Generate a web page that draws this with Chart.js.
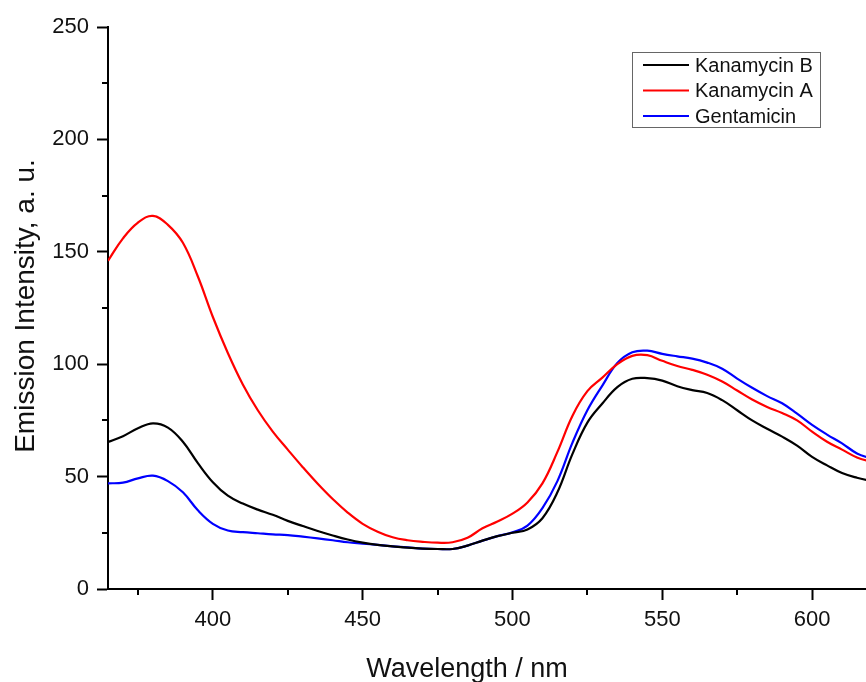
<!DOCTYPE html>
<html>
<head>
<meta charset="utf-8">
<script src="https://cdn.jsdelivr.net/npm/chart.js@4/dist/chart.umd.min.js"></script>
<style>
  html, body { margin: 0; padding: 0; background: #fff; }
  #wrap { width: 866px; height: 682px; }
</style>
</head>
<body>
<div id="wrap"><canvas id="chtEmission" width="866" height="682"></canvas></div>
<script>
'use strict';
// wavelength (nm), every 5 nm
const wavelengths = [365, 370, 375, 380, 385, 390, 395, 400, 405, 410, 415, 420, 425, 430, 435, 440, 445, 450, 455, 460,
    465, 470, 475, 480, 485, 490, 495, 500, 505, 510, 515, 520, 525, 530, 535, 540, 545, 550, 555, 560,
    565, 570, 575, 580, 585, 590, 595, 600, 605, 610, 615, 620];

const kanamycinB = [65.4, 68, 71.5, 73.7, 71.8, 65.5, 56, 47.5, 41.5, 38, 35.3, 33, 30.3, 28, 25.8, 23.8, 22, 20.6, 19.6, 19,
    18.4, 18, 17.8, 17.8, 19.3, 21.5, 23.5, 25, 26.5, 31.5, 43, 60, 74, 82.5, 89.8, 93.5, 93.8, 92.7, 90.2, 88.5,
    87.2, 84, 79.5, 75, 71.3, 67.8, 63.8, 58.8, 55, 51.6, 49.5, 48];

const kanamycinA = [146, 156, 163, 166, 162, 154, 139, 121, 105, 91, 79.5, 70, 62, 54.2, 46.8, 40, 34, 29, 25.5, 23,
    21.7, 21, 20.6, 20.8, 22.8, 27, 30, 33.5, 38.5, 47, 61, 77, 88, 94, 100, 103.7, 104, 101.5, 99.2, 97.5,
    95.3, 92.3, 88.3, 84.3, 81, 78.3, 75, 70, 65.5, 62, 58.5, 56.5];

const gentamicin = [47, 47.3, 49.2, 50.4, 48, 43, 35, 29, 26, 25.3, 24.8, 24.3, 24, 23.3, 22.5, 21.7, 20.8, 20.2, 19.6, 19,
    18.5, 18, 17.8, 17.8, 19.3, 21.5, 23.5, 25.2, 28.2, 36, 48, 65, 79.5, 90.5, 100.5, 105.3, 106, 104.6, 103.5, 102.5,
    100.7, 98, 93.6, 89.5, 85.8, 82.6, 78, 73, 68.7, 64.8, 60.3, 58];

const seriesNames = ['Kanamycin B', 'Kanamycin A', 'Gentamicin'];
const seriesColors = ['#000000', '#ff0000', '#0000ff'];

const xMajorTicks = [400, 450, 500, 550, 600];
const xMinorTicks = [375, 425, 475, 525, 575];
const yMajorTicks = [0, 50, 100, 150, 200, 250];
const yMinorTicks = [25, 75, 125, 175, 225];

const xTitle = 'Wavelength / nm';
const yTitle = 'Emission Intensity, a. u.';

const FONT = '"Liberation Sans", Arial, sans-serif';

var toPoints = (values) => values.map((v, i) => ({ x: wavelengths[i], y: v }));

// minor ticks, axis titles and the boxed legend
const decorPlugin = {
    id: 'decor',
    afterDraw(chart) {
        var ctx = chart.ctx;
        var area = chart.chartArea;
        var xs = chart.scales.x;
        var ys = chart.scales.y;

        ctx.save();
        ctx.strokeStyle = '#000';
        ctx.lineWidth = 2;
        ctx.beginPath();
        xMinorTicks.forEach((v) => {
            var px = Math.round(xs.getPixelForValue(v));
            ctx.moveTo(px, area.bottom);
            ctx.lineTo(px, area.bottom + 6);
        });
        yMinorTicks.forEach((v) => {
            var py = Math.round(ys.getPixelForValue(v));
            ctx.moveTo(area.left - 6, py);
            ctx.lineTo(area.left, py);
        });
        ctx.stroke();

        ctx.fillStyle = '#111';
        ctx.font = '27px ' + FONT;
        ctx.textAlign = 'center';
        ctx.textBaseline = 'alphabetic';
        ctx.fillText(xTitle, 467, 677);

        ctx.translate(34, (area.top + area.bottom) / 2 - 2);
        ctx.rotate(-Math.PI / 2);
        ctx.font = '28px ' + FONT;
        ctx.fillText(yTitle, 0, 0);
        ctx.restore();

        // legend
        ctx.save();
        ctx.strokeStyle = '#666';
        ctx.lineWidth = 1;
        ctx.strokeRect(632.5, 52.5, 188, 75);
        ctx.font = '20px ' + FONT;
        ctx.textAlign = 'left';
        ctx.textBaseline = 'middle';
        chart.data.datasets.forEach((ds, i) => {
            var ly = 65 + i * 25.5;
            ctx.strokeStyle = ds.borderColor;
            ctx.lineWidth = 2;
            ctx.beginPath();
            ctx.moveTo(643, ly);
            ctx.lineTo(689, ly);
            ctx.stroke();
            ctx.fillStyle = '#111';
            ctx.fillText(ds.label, 695, ly + 1);
        });
        ctx.restore();
    }
};

new Chart(document.getElementById('chtEmission'), {
    type: 'line',
    data: {
        datasets: [
            { label: seriesNames[0], data: toPoints(kanamycinB), borderColor: seriesColors[0] },
            { label: seriesNames[1], data: toPoints(kanamycinA), borderColor: seriesColors[1] },
            { label: seriesNames[2], data: toPoints(gentamicin), borderColor: seriesColors[2] }
        ]
    },
    options: {
        responsive: false,
        animation: false,
        devicePixelRatio: 1,
        layout: {
            padding: { top: 27, right: 0, bottom: 0, left: 0 }
        },
        elements: {
            point: { radius: 0 },
            line: { borderWidth: 2.2, tension: 0.4, fill: false }
        },
        plugins: {
            legend: { display: false },
            tooltip: { enabled: false }
        },
        scales: {
            x: {
                type: 'linear',
                min: 365,
                max: 618,
                afterBuildTicks(scale) {
                    scale.ticks = xMajorTicks.map((v) => ({ value: v }));
                },
                afterFit(scale) {
                    scale.height = 93;
                },
                ticks: {
                    font: { size: 22, family: FONT },
                    color: '#111',
                    padding: 7,
                    maxRotation: 0,
                    autoSkip: false
                },
                grid: {
                    drawOnChartArea: false,
                    drawTicks: true,
                    tickLength: 11,
                    tickWidth: 2,
                    tickColor: '#000'
                },
                border: { display: true, color: '#000', width: 2 }
            },
            y: {
                type: 'linear',
                min: 0,
                max: 250,
                afterBuildTicks(scale) {
                    scale.ticks = yMajorTicks.map((v) => ({ value: v }));
                },
                afterFit(scale) {
                    scale.width = 108;
                },
                ticks: {
                    font: { size: 22, family: FONT },
                    color: '#111',
                    padding: 8,
                    autoSkip: false
                },
                grid: {
                    drawOnChartArea: false,
                    drawTicks: true,
                    tickLength: 11,
                    tickWidth: 2,
                    tickColor: '#000'
                },
                border: { display: true, color: '#000', width: 2 }
            }
        }
    },
    plugins: [decorPlugin]
});
</script>
</body>
</html>
